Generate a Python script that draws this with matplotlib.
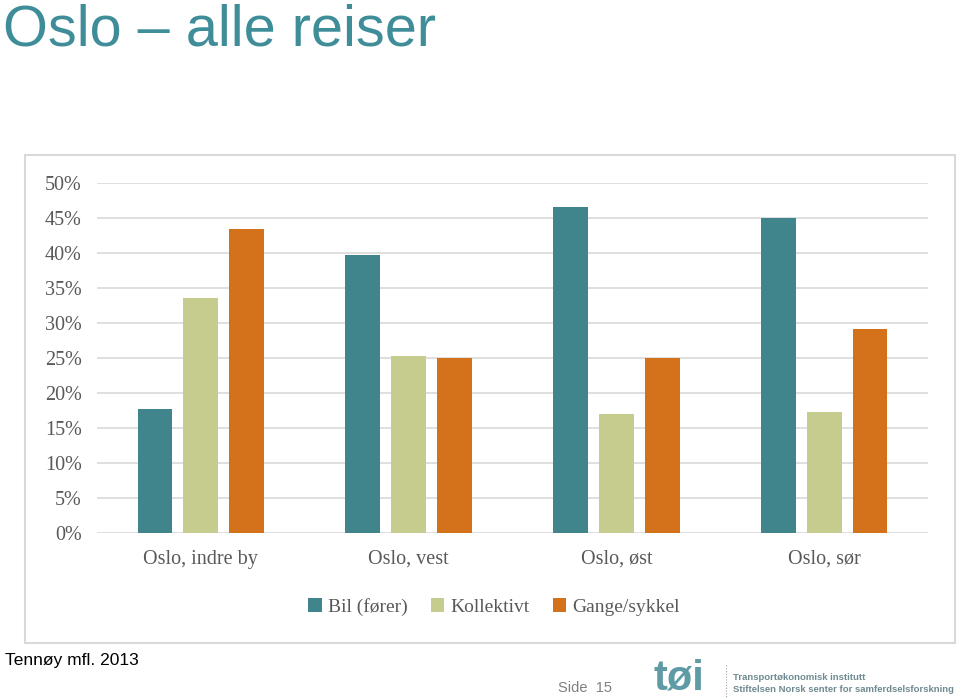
import matplotlib
matplotlib.use("Agg")
import matplotlib.pyplot as plt
from matplotlib.patches import Rectangle
from matplotlib.ticker import PercentFormatter
import numpy as np

categories = ["Oslo, indre by", "Oslo, vest", "Oslo, øst", "Oslo, sør"]
series_names = ["Bil (fører)", "Kollektivt", "Gange/sykkel"]
bil = [0.177, 0.397, 0.466, 0.450]
kollektivt = [0.336, 0.253, 0.170, 0.173]
gange = [0.434, 0.250, 0.250, 0.292]
yticks = [0, 0.05, 0.10, 0.15, 0.20, 0.25, 0.30, 0.35, 0.40, 0.45, 0.50]

colors = ["#40858B", "#C6CC8E", "#D4721C"]
serif = ["Liberation Serif", "DejaVu Serif"]
sans = ["Liberation Sans", "DejaVu Sans"]

W, H = 959, 699
fig = plt.figure(figsize=(W / 100, H / 100), dpi=100)
fig.patch.set_facecolor("white")

# chart frame
fig.patches.append(Rectangle((25 / W, 1 - 643 / H), (955 - 25) / W, (643 - 155) / H,
                             transform=fig.transFigure, fill=False,
                             edgecolor="#D9D9D9", linewidth=1.5, zorder=0))

ax = fig.add_axes([97 / W, 1 - 533 / H, (928 - 97) / W, (533 - 183) / H])
x = np.arange(len(categories))
width = 0.168
step = 0.221
for i, (vals, name) in enumerate(zip([bil, kollektivt, gange], series_names)):
    ax.bar(x + (i - 1) * step, vals, width=width, color=colors[i], label=name, zorder=3)

ax.set_xlim(-0.5, 3.5)
ax.set_ylim(0, 0.5)
ax.set_yticks(yticks)
ax.yaxis.set_major_formatter(PercentFormatter(1.0, decimals=0))
ax.grid(axis="y", color="#D9D9D9", linewidth=1.2, zorder=0)
ax.set_axisbelow(True)
for s in ax.spines.values():
    s.set_visible(False)
ax.tick_params(axis="both", length=0, colors="#595959")
ax.tick_params(axis="y", pad=11)
ax.tick_params(axis="x", pad=12)
ax.set_xticks(x)
ax.set_xticklabels(categories)
for lab in ax.get_xticklabels() + ax.get_yticklabels():
    lab.set_fontfamily(serif)
    lab.set_fontsize(14.5)
    lab.set_color("#595959")

leg = fig.legend(loc="center", bbox_to_anchor=(494 / W, 1 - 607 / H), ncol=3,
                 frameon=False, prop={"family": serif, "size": 14},
                 handlelength=0.7, handleheight=0.7, handletextpad=0.3,
                 columnspacing=1.2)
for t in leg.get_texts():
    t.set_color("#595959")

# title
fig.text(3 / W, 1 - 46 / H, "Oslo – alle reiser", family=sans, fontsize=41.5,
         color="#3F8D99", ha="left", va="baseline")

# source
fig.text(5 / W, 1 - 661 / H, "Tennøy mfl. 2013", family=sans, fontsize=12.5,
         color="black", ha="left", va="center")

# page number
fig.text(612 / W, 1 - 688 / H, "Side  15", family=sans, fontsize=10.5,
         color="#808080", ha="right", va="center")

# logo
fig.text(654 / W, 1 - 679 / H, "tøi", family=sans, fontsize=30, weight="bold",
         color="#5E9BA5", ha="left", va="center")
fig.lines.append(plt.Line2D([726 / W, 726 / W], [1 - 665 / H, 1 - 697 / H],
                            transform=fig.transFigure, color="#A0A0A0",
                            linestyle=(0, (1, 1.5)), linewidth=0.8))
fig.text(733 / W, 1 - 677 / H, "Transportøkonomisk institutt", family=sans,
         fontsize=6.8, weight="bold", color="#6E8A90", ha="left", va="center")
fig.text(733 / W, 1 - 690 / H, "Stiftelsen Norsk senter for samferdselsforskning",
         family=sans, fontsize=6.8, weight="bold", color="#6E8A90", ha="left", va="center")

fig.savefig("out.png", dpi=100, facecolor="white")
